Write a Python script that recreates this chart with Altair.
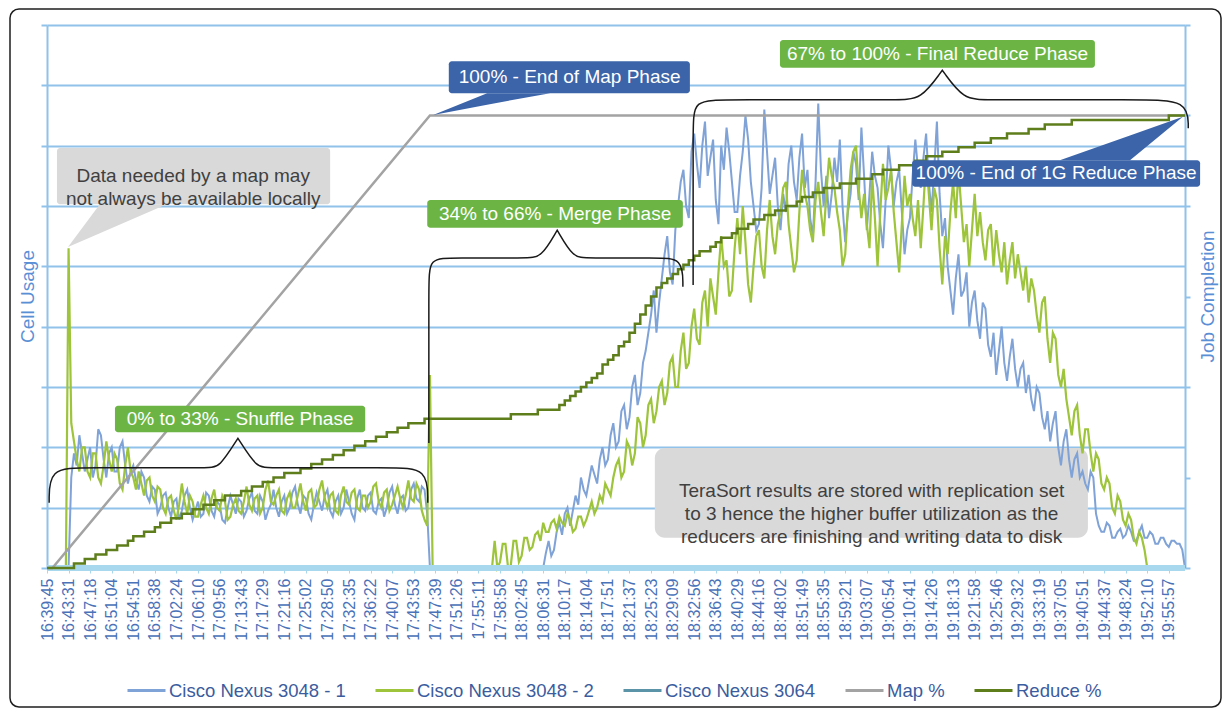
import altair as alt
import pandas as pd

FONT = "Liberation Sans"

# ---------------- data ----------------
x_labels = ["16:39:45", "16:43:31", "16:47:18", "16:51:04", "16:54:51", "16:58:38", "17:02:24",
            "17:06:10", "17:09:56", "17:13:43", "17:17:29", "17:21:16", "17:25:02", "17:28:50",
            "17:32:35", "17:36:22", "17:40:07", "17:43:53", "17:47:39", "17:51:26", "17:55:11",
            "17:58:58", "18:02:45", "18:06:31", "18:10:17", "18:14:04", "18:17:51", "18:21:37",
            "18:25:23", "18:29:09", "18:32:56", "18:36:43", "18:40:29", "18:44:16", "18:48:02",
            "18:51:49", "18:55:35", "18:59:21", "19:03:07", "19:06:54", "19:10:41", "19:14:26",
            "19:18:13", "19:21:58", "19:25:46", "19:29:32", "19:33:19", "19:37:05", "19:40:51",
            "19:44:37", "19:48:24", "19:52:10", "19:55:57"]
LABEL_STEP = 4      # samples per labelled category
HALF = 0.5          # the two switch series are sampled twice per sample step

nexus_3048_1 = [
    0, 0, 0, 0, 0, 0, 0, 0, 0, 1.5,
    1.9, 1.7, 2.2, 1.9, 1.6, 1.8, 2.0, 1.5, 1.7, 2.3, 2.2, 1.8, 1.5, 1.9, 2.0, 1.6, 1.6, 2.0, 2.1, 1.7, 1.4, 1.6,
    1.7, 1.45, 1.3, 1.6, 1.5, 1.2, 1.1, 1.35, 1.3, 0.9, 1.0, 1.2, 1.25, 1.0, 0.85, 1.1, 1.15, 0.8, 0.95, 1.2,
    1.3, 1.0, 0.8, 0.95, 1.1, 0.85, 0.9, 1.25, 1.2, 0.95, 0.85, 1.1, 1.05, 0.8, 0.75, 1.0, 1.2, 1.05, 0.9, 1.15,
    1.1, 0.85, 0.95, 1.15, 1.25, 0.95, 0.9, 1.2, 1.1, 0.8, 0.95, 1.05, 1.3, 1.0, 0.85, 1.1, 1.2, 0.9, 1.0, 1.25,
    1.35, 1.05, 0.9, 1.2, 1.15, 0.9, 0.8, 1.05, 1.25, 1.1, 0.95, 1.2, 1.3, 0.95, 0.85, 1.1, 1.2, 0.9, 1.0, 1.3,
    1.1, 0.9, 0.8, 1.15, 1.3, 1.0, 0.95, 1.2, 1.25, 0.95, 0.9, 1.1, 1.15, 0.85, 1.0, 1.25, 1.35, 1.05, 0.9, 1.15,
    1.2, 0.95, 1.0, 1.3, 1.4, 1.15, 1.1, 1.35, 1.3, 0.9, 0, 0,
    0, 0, 0, 0, 0, 0, 0, 0, 0, 0, 0, 0, 0, 0, 0, 0, 0, 0, 0, 0,
    0, 0, 0, 0, 0, 0, 0, 0, 0, 0, 0, 0, 0, 0, 0, 0, 0, 0, 0, 0,
    0, 0.25, 0.45, 0.2, 0.3, 0.6, 0.75, 0.55, 0.9, 1.0, 0.7, 0.95, 1.2, 1.05, 1.5, 1.3, 1.2, 1.45, 1.7, 1.55,
    1.4, 1.8, 2.0, 1.7, 1.8, 2.2, 2.4, 2.0, 2.1, 2.6, 2.7, 2.3, 2.5, 3.0, 3.2, 2.7, 2.9, 3.4, 3.6, 3.9,
    4.2, 4.6, 3.9, 4.4, 4.8, 5.2, 5.5, 4.9, 4.7, 5.6, 6.0, 6.4, 6.6, 6.0, 5.8, 6.9, 7.2, 6.7, 6.3, 7.0,
    7.4, 6.5, 6.8, 7.1, 6.1, 5.7, 7.0, 6.6, 7.3, 6.9, 6.4, 5.9, 5.9, 6.5, 6.9, 7.5, 7.1, 6.4, 6.0, 5.6,
    5.7, 6.3, 7.6, 6.9, 6.2, 6.5, 6.8, 6.0, 5.6, 6.2, 5.9, 6.7, 7.0, 6.4, 6.1, 6.8, 7.2, 6.3, 6.6, 5.8,
    5.5, 6.4, 7.7, 6.6, 6.0, 6.5, 5.8, 6.2, 6.8, 6.4, 7.1, 6.0, 5.4, 5.9, 6.2, 6.9, 6.7, 6.1, 7.3, 6.5,
    5.6, 6.2, 6.9, 6.5, 6.3, 5.7, 5.3, 6.1, 7.0, 6.6, 6.0, 6.4, 6.6, 5.9, 5.2, 5.6, 5.8, 6.5, 7.1, 6.6,
    6.3, 6.8, 7.2, 6.4, 5.9, 6.6, 7.4, 6.2, 5.5, 5.8, 5.0, 4.6, 4.2, 4.8, 5.2, 4.5, 4.6, 4.9, 4.0, 4.4,
    4.6, 4.1, 3.8, 4.4, 4.3, 3.7, 3.5, 3.9, 3.2, 3.6, 4.0, 3.4, 3.1, 3.5, 3.8, 3.3, 3.0, 3.3, 3.4, 2.9,
    3.2, 2.8, 2.6, 3.0, 2.9, 2.5, 2.3, 2.6, 2.1, 2.4, 2.6, 2.0, 1.7, 2.1, 2.3, 1.8, 1.5, 1.8, 1.9, 1.5,
    1.6, 1.4, 1.3, 1.6, 1.5, 0.9, 0.7, 0.6, 0.6, 0.75, 0.7, 0.5, 0.5, 0.6, 0.65, 0.5, 0.55, 0.7, 0.6, 0.45,
    0.45, 0.6, 0.7, 0.5, 0.5, 0.6, 0.55, 0.4, 0.4, 0.5, 0.5, 0.4, 0.35, 0.45, 0.45, 0.4, 0.4, 0.3, 0,
]

nexus_3048_2 = [
    0, 0, 0, 0, 0, 0, 0, 0, 5.3, 2.4,
    2.1, 1.8, 1.6, 2.0, 2.0, 1.6, 1.5, 1.9, 1.9, 1.5, 1.4, 1.7, 2.1, 1.8, 1.6, 1.9, 1.8, 1.4, 1.3, 1.7, 2.0, 1.6,
    1.5, 1.3, 1.6, 1.4, 1.2, 1.45, 1.5, 1.2, 1.1, 1.35, 1.3, 1.0, 0.9, 1.15, 1.2, 0.95, 0.8, 1.05, 1.4, 1.1,
    0.9, 1.2, 1.1, 0.85, 0.85, 1.05, 1.2, 1.0, 0.9, 1.15, 1.3, 1.0, 0.95, 1.2, 1.1, 0.8, 0.85, 1.05, 1.15, 0.95,
    0.9, 1.1, 1.35, 1.05, 0.95, 1.15, 1.2, 0.9, 1.0, 1.3, 1.45, 1.1, 1.05, 1.2, 1.3, 0.95, 0.9, 1.15, 1.25, 1.0,
    1.0, 1.2, 1.4, 1.1, 0.95, 1.25, 1.3, 1.0, 1.05, 1.3, 1.45, 1.15, 1.0, 1.2, 1.25, 0.95, 0.9, 1.2, 1.35, 1.1,
    1.05, 1.25, 1.3, 1.0, 0.95, 1.2, 1.2, 1.0, 1.1, 1.35, 1.4, 1.1, 1.0, 1.25, 1.3, 0.95, 1.05, 1.2, 1.35, 1.15,
    1.0, 1.2, 1.45, 1.15, 1.1, 1.4, 1.3, 0.95, 0.8, 0.7, 3.2, 0,
    0, 0, 0, 0, 0, 0, 0, 0, 0, 0, 0, 0, 0, 0, 0, 0, 0, 0, 0, 0, 0, 0,
    0.45, 0, 0.1, 0.4, 0.4, 0, 0.05, 0.45, 0.45, 0.1, 0.2, 0.5, 0.5, 0.3, 0.35, 0.55, 0.6, 0.45, 0.75, 0.6,
    0.6, 0.75, 0.8, 0.65, 0.85, 0.75, 0.7, 0.9, 0.8, 0.6, 0.65, 0.85, 0.85, 0.7, 0.8, 0.95, 1.1, 0.9, 1.0, 1.2,
    1.1, 1.4, 1.3, 1.2, 1.5, 1.7, 1.8, 1.5, 1.6, 2.1, 2.0, 1.7, 1.9, 2.5, 2.4, 2.0, 2.2, 2.7, 2.8, 2.4,
    2.6, 3.0, 3.1, 2.7, 2.9, 3.4, 3.5, 3.0, 3.0, 3.6, 3.9, 3.3, 3.4, 4.0, 4.3, 3.8, 3.7, 4.4, 4.6, 4.0,
    4.8, 4.5, 4.2, 4.9, 5.5, 5.0, 5.1, 4.5, 4.6, 5.3, 5.8, 5.2, 6.0, 5.4, 4.7, 4.4, 5.0, 5.5, 5.6, 5.0,
    4.8, 5.6, 6.1, 5.5, 5.2, 5.7, 5.9, 6.3, 6.4, 5.7, 5.3, 4.9, 5.1, 5.9, 6.6, 6.2, 6.0, 5.6, 5.4, 6.1,
    6.4, 5.9, 5.5, 6.2, 6.8, 6.5, 6.3, 5.9, 5.6, 5.0, 5.2, 6.0, 6.6, 6.9, 7.0, 6.3, 5.8, 6.2, 5.7, 5.3,
    6.5, 5.8, 5.0, 5.9, 6.7, 6.1, 6.3, 6.6, 5.9, 5.4, 4.9, 5.7, 6.5, 6.0, 6.2, 5.8, 5.5, 6.1, 5.3, 6.0,
    6.8, 6.2, 5.6, 6.3, 6.1, 5.3, 4.7, 5.5, 5.2, 5.9, 6.4, 5.8, 6.6, 6.0, 5.4, 5.7, 5.0, 5.6, 6.2, 5.5,
    5.9, 5.4, 5.1, 5.6, 5.7, 5.0, 5.6, 5.2, 4.9, 5.4, 4.7, 5.1, 5.4, 4.8, 5.2, 4.9, 4.6, 5.0, 4.4, 4.8,
    4.6, 4.2, 3.9, 4.4, 4.5, 3.8, 3.4, 3.9, 3.8, 3.2, 3.0, 3.3, 2.8, 2.5, 2.2, 2.6, 2.7, 2.2, 1.9, 2.3,
    2.3, 1.9, 1.6, 1.9, 1.8, 1.4, 1.3, 1.5, 1.4, 1.0, 0.9, 1.2, 1.1, 0.8, 0.7, 0.9, 0.8, 0.5, 0.4, 0.6,
    0.5, 0.3, 0, 0, 0, 0, 0, 0, 0, 0, 0, 0, 0, 0, 0, 0, 0,
]

nexus_3064 = [0.0] * 212   # flat at zero (hidden under the axis band)

map_index = [0, 1, 71, 211]
map_pct = [0, 0, 100, 100]

reduce_pct = [
    0, 0, 0, 0, 0,
    1, 1, 2, 2, 3, 3, 4, 4, 5, 5,
    6, 7, 7, 8, 8, 9, 10, 10, 11, 11,
    12, 12, 13, 13, 14, 14, 15, 15, 16, 16,
    16, 17, 17, 18, 18, 19, 19, 20, 20, 21,
    21, 21, 22, 22, 23, 23, 24, 24, 25, 25,
    26, 26, 27, 27, 28, 28, 29, 29, 30, 30,
    31, 31, 32, 32, 32, 33, 33,
    33, 33, 33, 33, 33, 33, 33, 33, 33, 33, 33, 33, 33, 33,
    34, 34, 34, 34, 34,
    35, 35, 35, 35,
    36, 37, 38, 39, 40, 41, 42, 43, 45, 46,
    47, 49, 50, 52, 54, 56, 58, 60, 62, 63,
    64, 65, 66, 67, 68, 69, 70, 70, 71, 72,
    73, 73, 74, 75, 75, 76, 77, 77, 78, 78,
    79, 79, 80, 80, 81, 82, 82, 83, 83, 84,
    84, 84, 85, 85, 85, 86, 86, 86, 87, 87,
    88, 88, 88, 89, 89, 89, 90, 90, 91, 91,
    91, 92, 92, 92, 93, 93, 93, 94, 94, 94,
    95, 95, 95, 96, 96, 96, 96, 97, 97, 97,
    98, 98, 98, 98, 98, 99, 99, 99, 99, 99,
    99, 99, 99, 99, 99, 99, 99, 99, 99, 99,
    99, 99, 99, 100, 100, 100, 100,
]

series_names = ["Cisco Nexus 3048 - 1", "Cisco Nexus 3048 - 2", "Cisco Nexus 3064", "Map %", "Reduce %"]
series_colors = ["#7FA2D7", "#9DC43B", "#5B93A8", "#A3A3A3", "#5E7E1C"]

# annotation boxes (x in samples, y in cell-usage units)
box_x1 = [1.85, 74.5, 70.5, 135.9, 12.6, 160.4]
box_x2 = [52.5, 119.2, 117.9, 194.3, 59.0, 213.8]
box_y1 = [6.03, 7.87, 5.64, 8.29, 2.25, 6.32]
box_y2 = [6.96, 8.40, 6.10, 8.75, 2.69, 6.76]
box_fill = ["#D9D9D9", "#3B64A9", "#6CB545", "#6CB545", "#6CB545", "#3B64A9"]

tera_box = {"x1": [112.7], "x2": [193.0], "y1": [0.50], "y2": [1.99]}
axis_band = {"x0": [0], "x1": [211], "y": [0]}

note_text = ["Data needed by a map may\nnot always be available locally",
             "100% - End of Map Phase",
             "34% to 66% - Merge Phase",
             "67% to 100% - Final Reduce Phase",
             "0% to 33% - Shuffle Phase",
             "100% - End of 1G Reduce Phase",
             "TeraSort results are stored with replication set\nto 3 hence the higher buffer utilization as the\nreducers are finishing and writing data to disk"]
note_x = [27.1, 96.9, 94.2, 165.1, 35.8, 187.1, 152.9]
note_y = [6.50, 8.13, 5.87, 8.52, 2.47, 6.54, 1.27]
note_color = ["#404040", "white", "white", "white", "white", "white", "#404040"]

# callout pointers: (x, lower, upper) per triangle
tri_id = ["a", "a", "a", "b", "b", "b", "c", "c", "c"]
tri_x = [3.9, 9.8, 22.2, 71.6, 81.6, 93.3, 187.8, 200.8, 210.6]
tri_lo = [5.32, 5.55, 6.03, 7.51, 7.68, 7.87, 6.76, 6.76, 7.48]
tri_hi = [5.32, 6.03, 6.03, 7.51, 7.87, 7.87, 6.76, 7.17, 7.48]
tri_fill = ["#D9D9D9"] * 3 + ["#3B64A9"] * 3 + ["#3B64A9"] * 3

# curly braces (control points, basis curve)
shuffle_bx = [0.4, 0.4, 7, 30, 31.9, 35.4, 35.4, 35.4, 38.9, 41, 64, 70.6, 70.6]
shuffle_by = [1.08, 1.66, 1.66, 1.66, 1.66, 2.15, 2.15, 2.15, 1.66, 1.66, 1.66, 1.66, 1.08]
merge_bx = [70.8, 70.8, 70.8, 75.5, 89, 91.6, 94.6, 94.6, 94.6, 97.6, 100, 113, 117.9, 117.9]
merge_by = [2.07, 4.7, 5.14, 5.14, 5.14, 5.14, 5.6, 5.6, 5.6, 5.14, 5.14, 5.14, 5.14, 4.66]
final_bx = [119.8, 119.8, 119.8, 126, 158, 162, 166, 166, 166, 170, 174, 202.5, 211.6, 211.6]
final_by = [4.69, 7.3, 7.76, 7.76, 7.76, 7.76, 8.25, 8.25, 8.25, 7.76, 7.76, 7.76, 7.76, 7.29]

# ---------------- frames ----------------
def series_df(name, values, step):
    return pd.DataFrame({"i": [k * step for k in range(len(values))], "v": values, "series": name})

blue_df = series_df(series_names[0], nexus_3048_1, HALF)
green_df = series_df(series_names[1], nexus_3048_2, HALF)
n3064_df = series_df(series_names[2], nexus_3064, 1)
map_df = pd.DataFrame({"i": map_index, "p": map_pct, "series": series_names[3]})
reduce_df = pd.DataFrame({"i": list(range(len(reduce_pct))), "p": reduce_pct, "series": series_names[4]})

boxes_df = pd.DataFrame({"x1": box_x1, "x2": box_x2, "y1": box_y1, "y2": box_y2, "col": box_fill})
tera_df = pd.DataFrame(tera_box)
band_df = pd.DataFrame(axis_band)
notes_df = pd.DataFrame({"x": note_x, "y": note_y, "t": note_text, "col": note_color})
tri_df = pd.DataFrame({"tri": tri_id, "x": tri_x, "lo": tri_lo, "hi": tri_hi, "col": tri_fill})

brace_rows = []
for name, bx, by in [("shuffle", shuffle_bx, shuffle_by), ("merge", merge_bx, merge_by),
                     ("final", final_bx, final_by)]:
    for k, (a, b) in enumerate(zip(bx, by)):
        brace_rows.append({"brace": name, "k": k, "x": a, "y": b})
brace_df = pd.DataFrame(brace_rows)

# ---------------- scales / guides ----------------
xs = alt.Scale(domain=[0, 211], nice=False, zero=False)
ys_cell = alt.Scale(domain=[0, 9], nice=False, zero=False)
ys_pct = alt.Scale(domain=[0, 120], nice=False, zero=False)
color_scale = alt.Scale(domain=series_names, range=series_colors)

GRID = "#90C2EA"
BAND = "#A8D8EE"
label_js = "[" + ",".join("'%s'" % s for s in x_labels) + "]"
x_axis = alt.Axis(values=[LABEL_STEP * k for k in range(len(x_labels))],
                  labelExpr=f"{label_js}[round(datum.value / {LABEL_STEP})]",
                  labelAngle=270, labelAlign="right", labelBaseline="middle",
                  labelFont=FONT, labelFontSize=16, labelColor="#4A72B8", labelPadding=5,
                  labelOverlap=False, labelFlush=False,
                  tickColor=BAND, tickSize=5, tickWidth=1,
                  domain=False, grid=False, title=None)


def X(field):
    return alt.X(field, scale=xs, axis=x_axis)


y_axis_left = alt.Axis(values=list(range(10)), labels=False, grid=True, gridColor=GRID, gridWidth=2,
                       tickColor=GRID, tickSize=6, tickWidth=2, domainColor=GRID, domainWidth=2,
                       title="Cell Usage", titleColor="#5A8FD6", titleFont=FONT, titleFontSize=19,
                       titleFontWeight="normal", titleAngle=270, titleX=-20, titleY=271,
                       titleAlign="center", titleBaseline="middle")

y_axis_right = alt.Axis(orient="right", values=[0, 20, 40, 60, 80, 100, 120], labels=False, grid=False,
                        tickColor=GRID, tickSize=5, tickWidth=2, domainColor=GRID, domainWidth=2,
                        title="Job Completion", titleColor="#5A8FD6", titleFont=FONT, titleFontSize=19,
                        titleFontWeight="normal", titleAngle=270, titleX=22, titleY=271,
                        titleAlign="center", titleBaseline="middle")

legend = alt.Legend(title=None, orient="none", legendX=79, legendY=645, direction="horizontal",
                    columns=5, symbolType="stroke", symbolSize=1444, symbolStrokeWidth=3,
                    labelFont=FONT, labelFontSize=18.5, labelColor="#3B5C9E", labelOffset=2,
                    columnPadding=23, padding=0, labelLimit=400)

color_enc = alt.Color("series:N", scale=color_scale, legend=legend)

# ---------------- layers ----------------
border = alt.Chart(pd.DataFrame({"a": [0]})).mark_rect(
    fill="white", fillOpacity=0, stroke="#1E1E1E", strokeWidth=1.5, cornerRadius=9
).encode(x=alt.value(-37), x2=alt.value(1174), y=alt.value(-16), y2=alt.value(682))

tera = alt.Chart(tera_df).mark_rect(fill="#D9D9D9", cornerRadius=10).encode(
    x=X("x1:Q"), x2="x2:Q",
    y=alt.Y("y1:Q", scale=ys_cell, axis=None), y2="y2:Q")

blue = alt.Chart(blue_df).mark_line(strokeWidth=2.0).encode(
    x=X("i:Q"),
    y=alt.Y("v:Q", scale=ys_cell, axis=y_axis_left),
    color=color_enc)

green = alt.Chart(green_df).mark_line(strokeWidth=2.2).encode(
    x=X("i:Q"),
    y=alt.Y("v:Q", scale=ys_cell, axis=None),
    color=color_enc)

n3064 = alt.Chart(n3064_df).mark_line(strokeWidth=2).encode(
    x=X("i:Q"),
    y=alt.Y("v:Q", scale=ys_cell, axis=None),
    color=color_enc)

band = alt.Chart(band_df).mark_rule(color=BAND, strokeWidth=6).encode(
    x=X("x0:Q"), x2="x1:Q",
    y=alt.Y("y:Q", scale=ys_cell, axis=None))

map_line = alt.Chart(map_df).mark_line(strokeWidth=2.5).encode(
    x=X("i:Q"),
    y=alt.Y("p:Q", scale=ys_pct, axis=None),
    color=color_enc)

reduce_line = alt.Chart(reduce_df).mark_line(strokeWidth=2.5, interpolate="step-after").encode(
    x=X("i:Q"),
    y=alt.Y("p:Q", scale=ys_pct, axis=y_axis_right),
    color=color_enc)

braces = alt.Chart(brace_df).mark_line(interpolate="basis", stroke="#1A1A1A", strokeWidth=1.5).encode(
    x=X("x:Q"),
    y=alt.Y("y:Q", scale=ys_cell, axis=None),
    detail="brace:N", order="k:Q")

boxes = alt.Chart(boxes_df).mark_rect(cornerRadius=3).encode(
    x=X("x1:Q"), x2="x2:Q",
    y=alt.Y("y1:Q", scale=ys_cell, axis=None), y2="y2:Q",
    fill=alt.Fill("col:N", scale=None))

pointers = alt.Chart(tri_df).mark_area().encode(
    x=X("x:Q"),
    y=alt.Y("lo:Q", scale=ys_cell, axis=None), y2="hi:Q",
    fill=alt.Fill("col:N", scale=None), detail="tri:N")

notes = alt.Chart(notes_df).mark_text(
    font=FONT, fontSize=19, lineBreak="\n", lineHeight=23, align="center", baseline="middle"
).encode(
    x=X("x:Q"),
    y=alt.Y("y:Q", scale=ys_cell, axis=None),
    text="t:N", fill=alt.Fill("col:N", scale=None))

chart = alt.layer(
    border, tera, blue, green, n3064, band, map_line, reduce_line, braces, boxes, pointers, notes
).resolve_scale(y="independent").properties(
    width=1138, height=543,
    padding={"left": 39, "top": 17, "right": 37, "bottom": 142},
    autosize=alt.AutoSizeParams(type="none"),
).configure_view(stroke=None)

chart.save("out.html", embed_options={"renderer": "svg", "actions": False})
